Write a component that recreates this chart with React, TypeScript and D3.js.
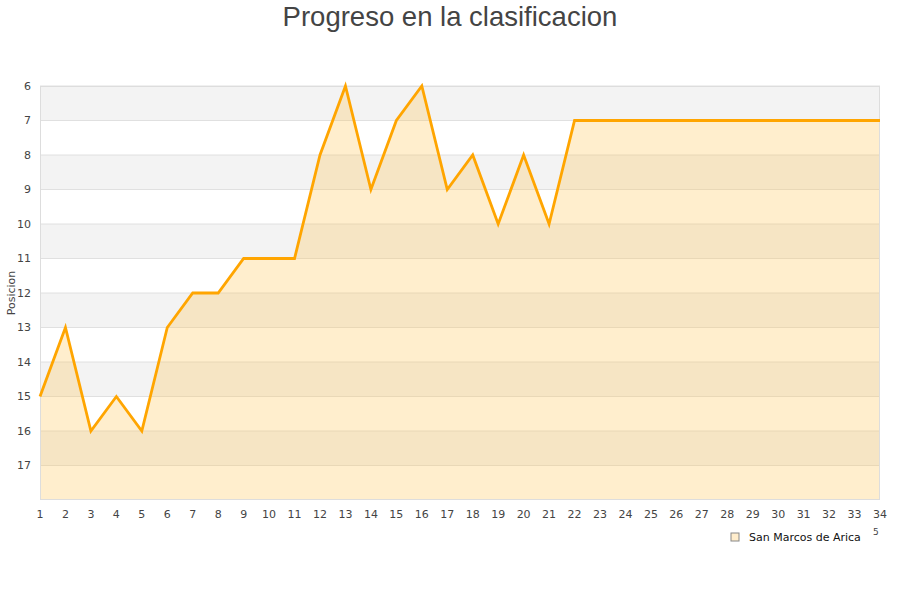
import React, { useEffect, useRef } from 'react';
import * as d3 from 'd3';

const jornadas = d3.range(1, 35);
const posiciones = [15, 13, 16, 15, 16, 13, 12, 12, 11, 11, 11, 8, 6, 9, 7, 6, 9, 8, 10, 8, 10, 7, 7, 7, 7, 7, 7, 7, 7, 7, 7, 7, 7, 7];
const yTicks = [6, 7, 8, 9, 10, 11, 12, 13, 14, 15, 16, 17];
const equipo = 'San Marcos de Arica';

export default function App() {
  const svgRef = useRef<SVGSVGElement | null>(null);

  useEffect(() => {
    if (!svgRef.current) return;
    const svg = d3.select(svgRef.current);
    svg.selectAll('*').remove();

    const width = 900;
    const height = 600;
    const margin = { top: 86, right: 20, bottom: 100, left: 40 };
    const w = width - margin.left - margin.right;
    const h = height - margin.top - margin.bottom;

    svg.append('rect').attr('width', width).attr('height', height).attr('fill', '#fff');

    svg.append('text')
      .attr('x', width / 2)
      .attr('y', 26)
      .attr('text-anchor', 'middle')
      .attr('font-family', 'Liberation Sans, Arial, sans-serif')
      .attr('font-size', 27.5)
      .attr('fill', '#444')
      .text('Progreso en la clasificacion');

    const x = d3.scaleLinear().domain([1, 34]).range([0, w]);
    const y = d3.scaleLinear().domain([6, 18]).range([0, h]);

    const g = svg.append('g').attr('transform', `translate(${margin.left},${margin.top})`);

    // alternating bands
    yTicks.forEach((t, i) => {
      g.append('rect')
        .attr('x', 0)
        .attr('y', y(t))
        .attr('width', w)
        .attr('height', y(t + 1) - y(t))
        .attr('fill', i % 2 === 0 ? '#f3f3f3' : '#ffffff');
    });

    // grid lines
    g.selectAll('line.grid')
      .data(yTicks)
      .enter()
      .append('line')
      .attr('x1', 0)
      .attr('x2', w)
      .attr('y1', d => y(d))
      .attr('y2', d => y(d))
      .attr('stroke', '#e0e0e0')
      .attr('stroke-width', 1);

    const pts = jornadas.map((j, i) => ({ j, p: posiciones[i] }));

    const area = d3.area<{ j: number; p: number }>()
      .x(d => x(d.j))
      .y0(h)
      .y1(d => y(d.p));

    g.append('path')
      .datum(pts)
      .attr('fill', 'rgba(255, 200, 90, 0.3)')
      .attr('d', area);

    // border
    g.append('rect')
      .attr('x', 0.5)
      .attr('y', 0.5)
      .attr('width', w - 1)
      .attr('height', h - 1)
      .attr('fill', 'none')
      .attr('stroke', '#dddddd');

    const line = d3.line<{ j: number; p: number }>()
      .x(d => x(d.j))
      .y(d => y(d.p));

    g.append('path')
      .datum(pts)
      .attr('fill', 'none')
      .attr('stroke', '#ffa500')
      .attr('stroke-width', 2.8)
      .attr('stroke-linejoin', 'miter')
      .attr('d', line);

    const font = 'DejaVu Sans, sans-serif';

    g.selectAll('text.ytick')
      .data(yTicks)
      .enter()
      .append('text')
      .attr('x', -9)
      .attr('y', d => y(d))
      .attr('dy', '0.35em')
      .attr('text-anchor', 'end')
      .attr('font-family', font)
      .attr('font-size', 11)
      .attr('fill', '#444')
      .text(d => d);

    g.selectAll('text.xtick')
      .data(jornadas)
      .enter()
      .append('text')
      .attr('x', d => x(d))
      .attr('y', h + 18)
      .attr('text-anchor', 'middle')
      .attr('font-family', font)
      .attr('font-size', 11)
      .attr('fill', '#444')
      .text(d => d);

    svg.append('text')
      .attr('transform', `translate(15,${margin.top + y(12)})rotate(-90)`)
      .attr('text-anchor', 'middle')
      .attr('font-family', font)
      .attr('font-size', 11)
      .attr('fill', '#444')
      .text('Posicion');

    // legend
    const lg = svg.append('g').attr('transform', 'translate(731,533)');
    lg.append('rect')
      .attr('width', 8)
      .attr('height', 8)
      .attr('fill', '#ffedcc')
      .attr('stroke', '#888')
      .attr('stroke-width', 1);
    lg.append('text')
      .attr('x', 18)
      .attr('y', 8)
      .attr('font-family', font)
      .attr('font-size', 11)
      .attr('fill', '#111')
      .text(equipo);
    svg.append('text')
      .attr('x', 873)
      .attr('y', 535)
      .attr('font-family', font)
      .attr('font-size', 9)
      .attr('fill', '#444')
      .text('5');
  }, []);

  return (
    <div style={{ position: 'absolute', left: 0, top: 0 }}>
      <svg ref={svgRef} width={900} height={600} style={{ display: 'block' }} />
    </div>
  );
}
